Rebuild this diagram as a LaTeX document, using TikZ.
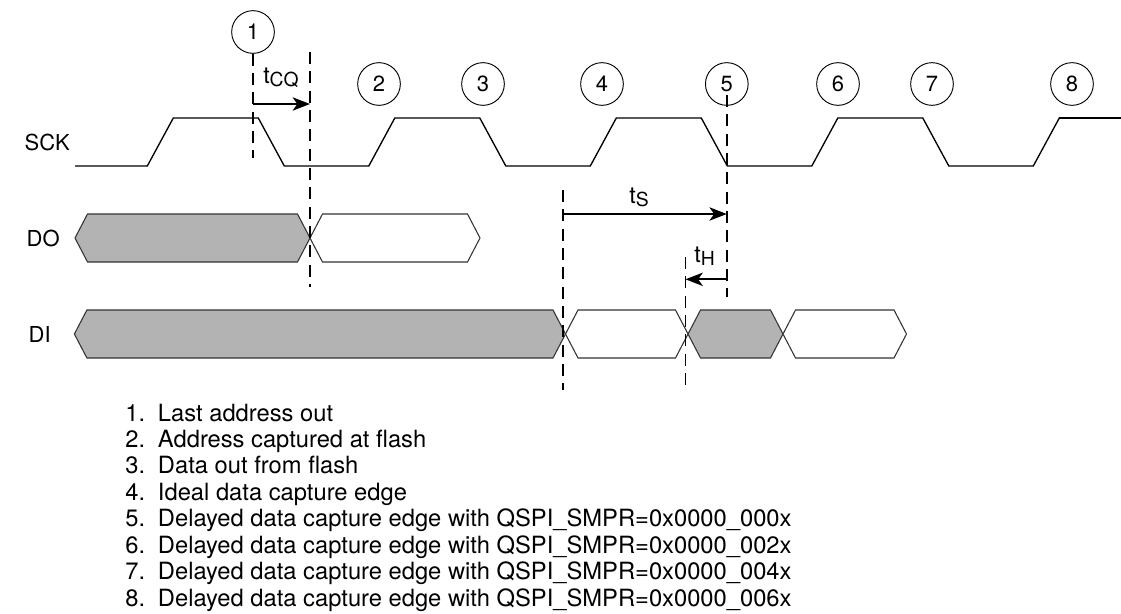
\documentclass[tikz,border=0pt]{standalone}
\usepackage{fontspec}
\setmainfont{TeX Gyre Heros}
\usetikzlibrary{arrows.meta}
\definecolor{busgray}{HTML}{B3B3B3}
\definecolor{busline}{HTML}{333333}
\tikzset{
  edgemark/.style={draw,circle,minimum size=32pt,inner sep=0pt,
                   line width=0.7pt,font=\fontsize{16.5}{18}\selectfont},
  sigline/.style={line width=1pt,line join=miter},
  markline/.style={line width=1.4pt,dash pattern=on 9pt off 5.5pt},
  timearrow/.style={-{Stealth[length=13pt,width=10pt,inset=3.5pt]},line width=1.4pt},
  siglabel/.style={anchor=west,font=\fontsize{16.5}{18}\selectfont},
  tlabel/.style={anchor=base,font=\fontsize{17.5}{20}\selectfont},
  note/.style={anchor=base west,font=\fontsize{17.8}{20}\selectfont},
}
\newcommand{\tsub}[1]{t\raisebox{-0.3ex}{\fontsize{14.5}{16}\selectfont #1}}
\newcommand{\busword}[4]{%
  \filldraw[fill=#4,draw=busline,line width=0.8pt]
    (#1,#3) -- ({#1+12.5},{#3-24}) -- ({#2-12.5},{#3-24}) -- (#2,#3)
    -- ({#2-12.5},{#3+24}) -- ({#1+12.5},{#3+24}) -- cycle;}

\begin{document}
\begin{tikzpicture}[x=0.75pt,y=-0.75pt]
  \useasboundingbox (0,0) rectangle (1121,614);
  % signal names
  \node[siglabel] (sck) at (20,142) {SCK};
  \node[siglabel] (do) at (22,238) {DO};
  \node[siglabel] (di) at (24,334) {DI};
  % clock
  \draw[sigline] (75,166)
    \foreach \k in {0,...,3}{
      -- ({147.3+221.5*\k},166) -- ({173.3+221.5*\k},118)
      -- ({258.3+221.5*\k},118) -- ({284.3+221.5*\k},166)}
    -- (1033.3,166) -- (1059.3,118) -- (1121,118);
  \draw[line width=1.6pt] (1059.3,118) -- (1121,118);
  % data words
  \foreach \a/\b/\f in {75/310/busgray,310/480/white}
    {\busword{\a}{\b}{238}{\f}}
  \foreach \a/\b/\f in {74.4/565.5/busgray,565.5/688/white,
                        688/783/busgray,783/906.5/white}
    {\busword{\a}{\b}{334}{\f}}
  % numbered edges
  \node[edgemark] (c1) at (253,32) {1};
  \foreach \n/\x in {2/379,3/483,4/602,5/726.8,6/838,7/932,8/1072}
    \node[edgemark] (c\n) at (\x,84) {\n};
  % marker lines
  \coordinate (q0) at (310,52);
  \coordinate (q1) at (310,287);
  \coordinate (e5a) at (726.8,95);
  \coordinate (e5b) at (726.8,297);
  \coordinate (sa) at (562.7,190);
  \coordinate (sb) at (562.7,390);
  \coordinate (ha) at (685.5,257);
  \coordinate (hb) at (685.5,390);
  \draw[markline] (c1.south) -- (c1.south |- 0,158);
  \draw[markline] (q0) -- (q1);
  \draw[markline] (e5a) -- (e5b);
  \draw[markline] (sa) -- (sb);
  \draw[markline] (ha) -- (hb);
  % timing arrows
  \coordinate (cq0) at (253,104);
  \coordinate (cq1) at (310,104);
  \coordinate (ts0) at (562.7,214);
  \coordinate (ts1) at (726.8,214);
  \coordinate (th0) at (726.8,279.3);
  \coordinate (th1) at (685.5,279.3);
  \draw[timearrow] (cq0) -- (cq1);
  \draw[timearrow] (ts0) -- (ts1);
  \draw[timearrow] (th0) -- (th1);
  \node[tlabel] (tcq) at (281,83) {\tsub{CQ}};
  \node[tlabel] (tsu) at (639,203) {\tsub{S}};
  \node[tlabel] (tho) at (704.5,262) {\tsub{H}};
  % legend
  \foreach \txt [count=\i] in {Last address out,Address captured at flash,
      Data out from flash,Ideal data capture edge,
      Delayed data capture edge with QSPI\_SMPR=0x0000\_000x,
      Delayed data capture edge with QSPI\_SMPR=0x0000\_002x,
      Delayed data capture edge with QSPI\_SMPR=0x0000\_004x,
      Delayed data capture edge with QSPI\_SMPR=0x0000\_006x}
    \node[note] (item\i) at (120.7,{421+26.45*(\i-1)}) {\i.\hskip9.6pt\txt};
\end{tikzpicture}
\end{document}
